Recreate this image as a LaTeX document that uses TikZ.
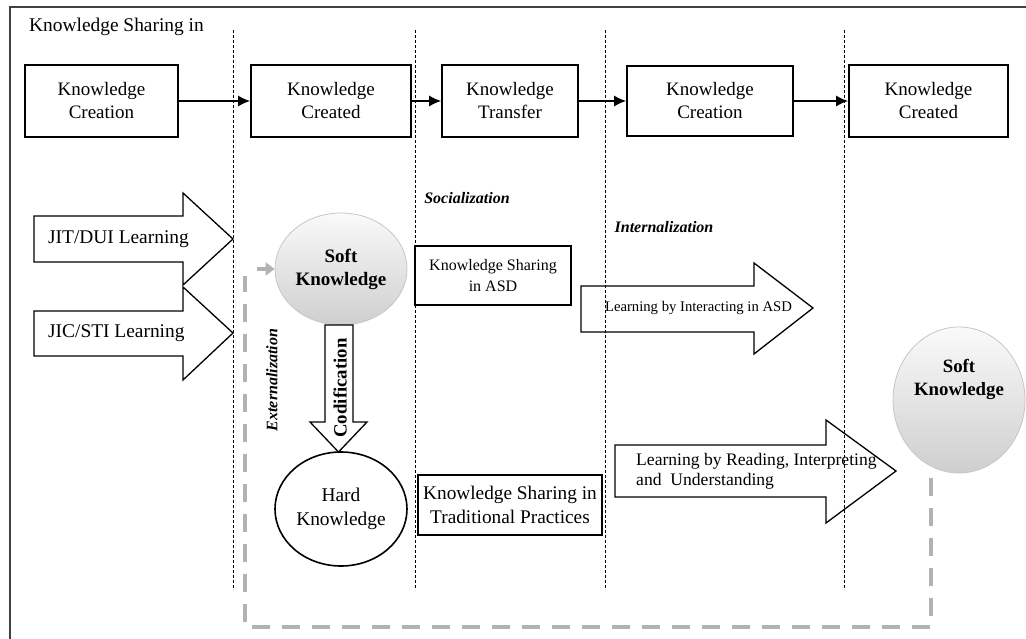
\documentclass[tikz,border=0pt]{standalone}
\usepackage{fontspec}
\setmainfont{Liberation Serif}
\usetikzlibrary{arrows.meta,shapes.geometric}
\begin{document}
\begin{tikzpicture}[x=1pt,y=-1pt,
  box/.style={draw=black,line width=1.6pt,fill=white,align=center,inner sep=0pt,font=\fontsize{19}{23}\selectfont},
  flow/.style={line width=1.6pt,-{Latex[length=12pt,width=11pt]}},
  sep/.style={dash pattern=on 3pt off 2pt,line width=0.8pt},
  blockarrow/.style={draw=black,line width=1.3pt,line join=miter},
  softk/.style={ellipse,draw=gray!45,line width=0.8pt,top color=gray!4,bottom color=gray!38,inner sep=0pt,align=center,font=\bfseries\fontsize{19}{23}\selectfont},
  phase/.style={font=\bfseries\itshape\fontsize{16}{18}\selectfont,inner sep=0pt},
  plain/.style={inner sep=0pt,align=left},
  loop/.style={draw=gray!60,line width=4pt,dash pattern=on 18pt off 12pt},
]
\useasboundingbox (0,0) rectangle (1026,639);
% frame
\draw[line width=2.4pt,black!75] (10,639) -- (10,7) -- (1026,7);
\node[plain,anchor=west,font=\fontsize{19.4}{22}\selectfont] (title) at (29,27) {Knowledge Sharing in};

% separators
\foreach \x/\n in {233/s1,415/s2,605/s3,844/s4}{
  \coordinate (\n t) at (\x,30);
  \coordinate (\n b) at (\x,590);
  \draw[sep] (\n t) -- (\n b);
}

% top boxes
\node[box,minimum width=153pt,minimum height=72pt] (b1) at (101.5,101) {Knowledge\\Creation};
\node[box,minimum width=160pt,minimum height=72pt] (b2) at (331,101) {Knowledge\\Created};
\node[box,minimum width=136pt,minimum height=72pt] (b3) at (510,101) {Knowledge\\Transfer};
\node[box,minimum width=166pt,minimum height=70pt] (b4) at (710,101) {Knowledge\\Creation};
\node[box,minimum width=159pt,minimum height=72pt] (b5) at (928.5,101) {Knowledge\\Created};
\draw[flow] (b1) -- (b2);
\draw[flow] (b2) -- (b3);
\draw[flow] (b3) -- (b4);
\draw[flow] (b4) -- (b5);

% phase labels
\node[phase] (soc) at (467,198) {Socialization};
\node[phase] (int) at (664,227) {Internalization};

% left block arrows
\draw[blockarrow] (34,216) -- (183,216) -- (183,193) -- (233,239) -- (183,285) -- (183,262) -- (34,262) -- cycle;
\node[plain,anchor=west,font=\fontsize{19.4}{22}\selectfont] (jit) at (48,239) {JIT/DUI Learning};
\draw[blockarrow] (34,311) -- (183,311) -- (183,287) -- (233,333) -- (183,380) -- (183,356) -- (34,356) -- cycle;
\node[plain,anchor=west,font=\fontsize{19.4}{22}\selectfont] (jic) at (48,333) {JIC/STI Learning};

% feedback loop
\coordinate (l0) at (931,478);
\coordinate (l1) at (931,627);
\coordinate (l2) at (245,627);
\coordinate (l3) at (245,276);
\coordinate (l4) at (257,269);

% soft knowledge (left)
\node[softk,minimum width=132pt,minimum height=112pt] (softA) at (341,269) {Soft\\Knowledge};
\draw[loop] (l0) -- (l1) -- (l2) -- (l3);
\draw[draw=gray!60,line width=4pt,-{Triangle[length=9pt,width=13pt]}] (l4) -- (softA.west);

% codification arrow
\draw[blockarrow,fill=white] (325,325) -- (353,325) -- (353,422) -- (367,422) -- (338.5,452) -- (310,422) -- (325,422) -- cycle;
\node[rotate=90,inner sep=0pt,font=\bfseries\fontsize{18.8}{20}\selectfont] (cod) at (340,388) {Codification};
\node[rotate=90,phase] (ext) at (272,380) {Externalization};

% hard knowledge
\node[ellipse,draw=black,line width=1.6pt,fill=white,minimum width=132pt,minimum height=114pt,inner sep=0pt,align=center,font=\fontsize{19.4}{24}\selectfont] (hard) at (341,509) {Hard\\Knowledge};

% sharing boxes
\node[box,minimum width=156pt,minimum height=59pt,font=\fontsize{16}{21}\selectfont] (asd) at (493,275.5) {Knowledge Sharing\\in ASD};
\node[box,minimum width=184pt,minimum height=60pt,font=\fontsize{19.3}{24}\selectfont] (trad) at (510,505) {Knowledge Sharing in\\Traditional Practices};

% right block arrows
\draw[blockarrow] (581,286) -- (754,286) -- (754,263) -- (813,308) -- (754,354) -- (754,332) -- (581,332) -- cycle;
\node[plain,font=\fontsize{14.7}{17}\selectfont] (lia) at (698.5,308) {Learning by Interacting in ASD};
\draw[blockarrow] (615,445) -- (826,445) -- (826,420) -- (896,471) -- (826,523) -- (826,497) -- (615,497) -- cycle;
\node[plain,anchor=west,font=\fontsize{17.6}{20}\selectfont] (lrd) at (636,471) {Learning by Reading, Interpreting\\and\ \ Understanding};

% soft knowledge (right)
\node[softk,minimum width=132pt,minimum height=146pt,font=\bfseries\fontsize{18.8}{23}\selectfont,text depth=0pt] (softB) at (959,400) {};
\node[inner sep=0pt,align=center,font=\bfseries\fontsize{18.8}{23}\selectfont] (softBt) at (959,379) {Soft\\Knowledge};

\end{tikzpicture}
\end{document}
